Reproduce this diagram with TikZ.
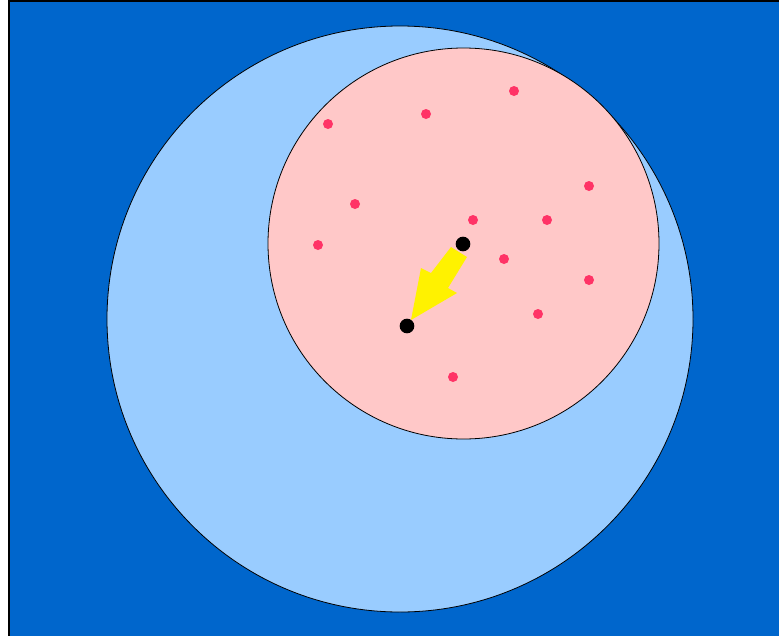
\documentclass[tikz,border=0pt]{standalone}
\begin{document}
\begin{tikzpicture}[x=0.75pt,y=-0.75pt,
  dot/.style={circle,fill=red!80!blue!40!red,inner sep=0pt,minimum size=7.5pt},
  center/.style={circle,fill=black,inner sep=0pt,minimum size=11pt}]
\definecolor{bgblue}{HTML}{0066CC}
\definecolor{lightblue}{HTML}{99CCFF}
\definecolor{pinkc}{HTML}{FFC8C8}
\definecolor{dotred}{HTML}{FF3366}
\tikzset{dot/.style={circle,fill=dotred,inner sep=0pt,minimum size=7.5pt}}
\useasboundingbox (0,0) rectangle (779,636);
\fill[bgblue] (9,1) rectangle (785,640);
\draw[line width=1.2pt] (9,640) -- (9,1) -- (785,1);
\draw[fill=lightblue,line width=0.6pt] (400,319) circle[radius=293];
\draw[fill=pinkc,line width=0.6pt] (463.5,243.5) circle[radius=195.5];
\foreach \i/\p in {1/{(328,124)},2/{(426,114)},3/{(514,91)},4/{(355,204)},5/{(473,220)},6/{(547,220)},7/{(589,186)},8/{(318,245)},9/{(504,259)},10/{(589,280)},11/{(538,314)},12/{(453,377)}}
  \node[dot] (d\i) at \p {};
\fill[yellow] (451,247) -- (467,257) -- (448,288) -- (457,293) -- (411,320) -- (421,268) -- (431,273) -- cycle;
\node[center] (c1) at (463,244) {};
\node[center] (c2) at (407,326) {};
\end{tikzpicture}
\end{document}
